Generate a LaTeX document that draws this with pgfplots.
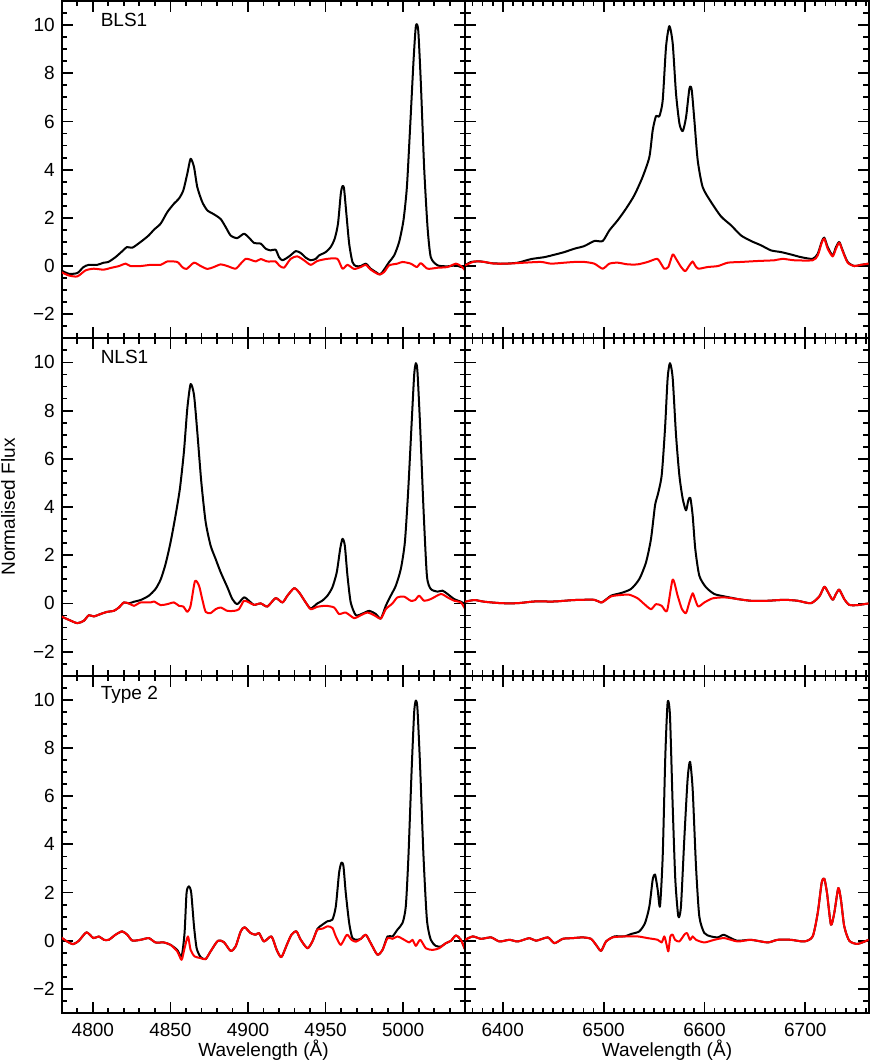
\documentclass[border=0pt]{standalone}
\usepackage{fontspec}
\setmainfont{Liberation Sans}
\usepackage{pgfplots}
\pgfplotsset{compat=1.18}
\usepgfplotslibrary{groupplots}

\pgfplotsset{
  spec/.style={
    width=201.5pt, height=168.5pt, scale only axis,
    ymin=-3, ymax=11,
    ytick={-2,0,...,10},
    minor ytick={-3,-2.5,...,11},
    tick align=inside, tick pos=both,
    major tick length=5.5pt, minor tick length=2.75pt,
    every tick/.style={black, line width=0.9pt},
    axis line style={line width=1pt},
    tick label style={font=\fontsize{9.5}{11}\selectfont},
    label style={font=\fontsize{9.5}{11}\selectfont},
    xticklabel shift=1.4pt,
    xlabel style={inner sep=0pt}, xlabel shift=-2pt,
    ylabel style={inner sep=0.5pt}, ylabel shift=5pt,
    clip=true,
  },
  hb/.style={spec, xmin=4780, xmax=5040, xtick={4800,4850,...,5000},
    minor xtick={4780,4790,...,5040}},
  ha/.style={spec, xmin=6362.8, xmax=6762.8, xtick={6400,6500,6600,6700},
    minor xtick={6370,6380,...,6760}},
  ylab/.style={yticklabels={−2,0,2,4,6,8,10}},
  noylab/.style={yticklabels={}},
  noxlab/.style={xticklabels={}},
  blk/.style={black, line width=1pt, line join=round, smooth, tension=0.4, mark=none},
  rd/.style={red, line width=1pt, line join=round, smooth, tension=0.4, mark=none},
}

\begin{document}
\begin{tikzpicture}
\begin{groupplot}[group style={group size=2 by 3, horizontal sep=0pt, vertical sep=0pt}]

% ---- row 1: BLS1
\nextgroupplot[hb, ylab, noxlab]
\addplot[blk] coordinates {(4779.6,-0.18)(4784.5,-0.32)(4790,-0.29)(4794,-0.04)(4797.4,0.05)(4802.8,0.05)(4807,0.14)(4810,0.17)(4814.6,0.37)(4819,0.62)(4822,0.79)(4825.4,0.76)(4830.8,1.0)(4836,1.27)(4839.4,1.51)(4843.7,1.76)(4848,2.24)(4852.3,2.59)(4855.5,2.80)(4858.3,3.14)(4860.9,3.84)(4863,4.45)(4865.2,4.11)(4867.3,3.28)(4870.5,2.66)(4873.8,2.31)(4878,2.15)(4882.4,1.95)(4885.6,1.62)(4888.8,1.27)(4893,1.16)(4897.4,1.34)(4900.6,1.18)(4903.9,0.96)(4908.2,0.93)(4911.4,0.72)(4914.6,0.65)(4917.8,0.68)(4920,0.37)(4922.2,0.24)(4926.5,0.40)(4930.8,0.62)(4934,0.54)(4937.2,0.35)(4940.4,0.24)(4943.7,0.30)(4945.8,0.44)(4950.1,0.58)(4953.3,0.79)(4955.9,1.14)(4958,1.76)(4959.8,3.0)(4960.9,3.32)(4961.9,3.21)(4963.4,2.17)(4965.2,0.93)(4967.3,0.17)(4969.5,0)(4972.7,0)(4975.9,0.1)(4979.1,-0.11)(4982.4,-0.25)(4985.2,-0.35)(4987.7,-0.15)(4991,0.17)(4994.2,0.44)(4997.4,1.0)(5000.2,1.9)(5002.4,3.28)(5004.5,5.78)(5006.7,8.55)(5008.2,9.97)(5009.7,9.79)(5011.4,7.58)(5013.5,4.11)(5015.7,1.62)(5017.8,0.37)(5022.2,0.03)(5028.6,-0.01)(5034,0.03)(5037.2,-0.04)(5040,-0.04)};
\addplot[rd] coordinates {(4779.6,-0.25)(4784.5,-0.39)(4790,-0.43)(4795.3,-0.18)(4800.6,-0.11)(4807,-0.15)(4811.4,-0.08)(4816.8,0)(4821.1,0.1)(4824.3,0)(4830.8,0)(4837.2,0.05)(4843.7,0.05)(4848,0.19)(4854.4,0.17)(4857.6,-0.04)(4860.4,-0.12)(4865.2,0.14)(4869.5,0)(4873.8,-0.12)(4878,-0.04)(4882.4,0.07)(4886.7,0)(4892,-0.11)(4895.3,0.1)(4898.5,0.3)(4901.7,0.26)(4905,0.19)(4908.2,0.29)(4912.5,0.19)(4917.8,0.19)(4920,0.03)(4923.2,-0.07)(4927.5,0.3)(4931.8,0.40)(4936.1,0.24)(4940.4,0.05)(4944.7,0.21)(4951.2,0.3)(4957.6,0.3)(4960.9,-0.11)(4964.1,0.05)(4968.4,-0.12)(4972.7,-0.04)(4975.9,0.05)(4979.1,-0.15)(4984.5,-0.35)(4987.7,-0.25)(4991,0.03)(4996.3,0.1)(4999.6,0.17)(5004.9,0.1)(5008.8,-0.04)(5011.4,0.12)(5015.7,-0.11)(5022.2,-0.07)(5028.6,-0.04)(5034,0.1)(5037.2,0)(5040,-0.18)};
\node[anchor=west, font=\fontsize{9.5}{11}\selectfont] at (rel axis cs:0.079,0.944) {BLS1};

\nextgroupplot[ha, noylab, noxlab]
\addplot[blk] coordinates {(6362.7,0.03)(6368.6,0.17)(6378.5,0.19)(6388.4,0.12)(6401.7,0.1)(6414.9,0.14)(6428.1,0.29)(6441.3,0.37)(6451.2,0.47)(6461.1,0.58)(6471,0.72)(6480.9,0.83)(6490.8,1.04)(6499.1,1.04)(6505.7,1.48)(6514,1.9)(6522.2,2.38)(6530.5,2.94)(6538.7,3.70)(6545.4,4.53)(6548.7,5.64)(6552,6.23)(6555.3,6.22)(6558.6,6.88)(6561.9,9.1)(6565.2,9.96)(6568.5,9.24)(6571.8,7.16)(6575.2,5.91)(6578.5,5.6)(6581.8,6.19)(6585.1,7.37)(6587.3,7.33)(6590,6.05)(6593.3,4.39)(6598.2,3.28)(6606.5,2.66)(6616.4,2.06)(6626.4,1.69)(6636.3,1.27)(6646.2,1.04)(6656.1,0.86)(6666,0.65)(6675.9,0.58)(6685.8,0.48)(6695.7,0.37)(6707.3,0.3)(6712.3,0.51)(6716.2,1.0)(6718.8,1.18)(6722.2,0.79)(6727.1,0.44)(6730.4,0.79)(6733.7,1.0)(6737,0.65)(6742,0.17)(6748.6,0)(6755.2,0.05)(6762.8,0.1)};
\addplot[rd] coordinates {(6362.7,0.03)(6372,0.19)(6381.8,0.17)(6391.7,0.1)(6405,0.1)(6421.5,0.14)(6438,0.17)(6447.9,0.1)(6461.1,0.14)(6471,0.17)(6480.9,0.17)(6490.8,0.1)(6499.1,-0.11)(6505.7,0.1)(6514,0.14)(6523.9,0.07)(6533.8,0.07)(6543.7,0.17)(6553,0.3)(6556.9,0.1)(6560.2,-0.11)(6564.2,-0.04)(6568.5,0.48)(6571.8,0.3)(6576.8,-0.04)(6581,-0.21)(6585.1,0.03)(6588.3,0.19)(6590.6,0.03)(6593.9,-0.11)(6603.2,-0.04)(6613.3,0)(6623.2,0.14)(6636.3,0.17)(6652.8,0.21)(6669.3,0.24)(6677.5,0.3)(6689.1,0.24)(6707.3,0.24)(6712.3,0.44)(6716.2,0.96)(6718.8,1.14)(6722.2,0.72)(6727.1,0.40)(6730.4,0.72)(6733.7,0.97)(6737,0.62)(6742,0.14)(6748.6,0)(6755.2,0.05)(6762.8,0.1)};

% ---- row 2: NLS1
\nextgroupplot[hb, ylab, noxlab, ylabel={Normalised Flux}]
\addplot[blk] coordinates {(4779.6,-0.54)(4784.5,-0.68)(4790,-0.82)(4794.2,-0.72)(4797.4,-0.49)(4800.6,-0.54)(4805,-0.44)(4809.2,-0.35)(4813.5,-0.31)(4816.8,-0.17)(4820,0.04)(4823.2,0)(4826.5,0.07)(4830.8,0.14)(4836.1,0.32)(4840.4,0.6)(4843.7,0.99)(4846.9,1.64)(4850.1,2.54)(4853.3,3.65)(4856.1,4.76)(4858.7,6.29)(4860.9,8.1)(4863,9.1)(4865.2,8.65)(4867.3,7.13)(4869.9,5.04)(4872.7,3.38)(4875.9,2.4)(4879.1,1.85)(4882.4,1.29)(4886.7,0.67)(4889.9,0.18)(4893.1,-0.03)(4897.4,0.25)(4900.6,0.11)(4903.9,-0.06)(4908.2,0)(4912.5,-0.13)(4917.8,0.22)(4922.2,0.04)(4925.4,0.32)(4929.7,0.63)(4932.9,0.46)(4937.2,0.04)(4940.4,-0.21)(4944.7,0)(4947.8,0.11)(4951.2,0.32)(4954.4,0.67)(4957.2,1.29)(4959.4,2.26)(4960.9,2.68)(4962.4,2.40)(4964.1,1.15)(4966.2,0.04)(4969.5,-0.49)(4973.8,-0.42)(4978.1,-0.31)(4982.4,-0.44)(4985.6,-0.63)(4988.8,-0.1)(4992,0.32)(4995.3,0.74)(4998.5,1.43)(5001.1,2.54)(5003.2,4.63)(5005.4,7.4)(5007.1,9.49)(5008.2,9.97)(5009.2,9.63)(5010.9,7.4)(5013.1,3.93)(5015.3,1.15)(5017.8,0.6)(5022.2,0.49)(5025.4,0.53)(5028.6,0.39)(5032.9,0.18)(5037.2,0.07)(5040,-0.03)};
\addplot[rd] coordinates {(4779.6,-0.54)(4784.5,-0.68)(4790,-0.82)(4794.2,-0.72)(4797.4,-0.49)(4800.6,-0.54)(4805,-0.44)(4809.2,-0.35)(4813.5,-0.31)(4816.8,-0.17)(4820,0.04)(4823.2,0)(4826.5,-0.1)(4830.8,0.04)(4837.2,0.04)(4839.4,0.08)(4843.7,-0.07)(4848,-0.03)(4852.3,0.04)(4855.5,-0.1)(4858.3,-0.13)(4860.9,-0.35)(4863,-0.1)(4865.8,0.92)(4868.4,0.74)(4870.5,0.18)(4872.7,-0.35)(4875.9,-0.4)(4879.1,-0.24)(4882.4,-0.17)(4886.7,-0.31)(4891,-0.31)(4894.2,-0.24)(4897.4,0.11)(4900.6,0.04)(4903.9,-0.06)(4908.2,0)(4912.5,-0.13)(4917.8,0.22)(4922.2,0.04)(4925.4,0.32)(4929.7,0.63)(4932.9,0.46)(4937.2,0.04)(4940.4,-0.24)(4944.7,-0.14)(4950.1,-0.1)(4955.5,-0.17)(4958.7,-0.44)(4963,-0.38)(4968.4,-0.61)(4972.7,-0.49)(4977,-0.38)(4981.3,-0.49)(4985.6,-0.63)(4988.8,-0.24)(4993.1,0)(4996.3,0.25)(5000.6,0.28)(5004.9,0.11)(5007.7,0.14)(5010.3,0.32)(5013.5,0.11)(5017.8,0.18)(5024.3,0.39)(5028.6,0.25)(5032.9,0.11)(5037.2,0.04)(5040,-0.24)};
\node[anchor=west, font=\fontsize{9.5}{11}\selectfont] at (rel axis cs:0.079,0.944) {NLS1};

\nextgroupplot[ha, noylab, noxlab]
\addplot[blk] coordinates {(6362.7,0.07)(6371.9,0.14)(6381.8,0.07)(6398.3,0.01)(6414.9,0.01)(6431.4,0.08)(6451.2,0.08)(6471,0.14)(6490.8,0.15)(6498.1,0.04)(6507.4,0.32)(6517.3,0.43)(6527.2,0.6)(6535.4,1.01)(6542.1,1.71)(6547,2.68)(6551,4.07)(6553.6,4.49)(6557.6,5.32)(6560.9,7.26)(6563.5,9.35)(6565.8,9.97)(6568.5,9.35)(6571.8,6.99)(6575.1,5.32)(6578.4,4.35)(6581.7,3.86)(6584,4.28)(6586,4.38)(6588.3,3.65)(6590.9,2.26)(6594.9,1.15)(6601.5,0.67)(6609.8,0.39)(6619.7,0.29)(6629.6,0.21)(6632.9,0.18)(6646.1,0.11)(6662.6,0.11)(6679.2,0.15)(6692.4,0.11)(6705.6,0.01)(6713.9,0.29)(6718.8,0.69)(6722.2,0.49)(6727.1,0.15)(6730.4,0.39)(6733.7,0.57)(6738.6,0.18)(6743.6,-0.06)(6751.8,-0.07)(6762.8,0)};
\addplot[rd] coordinates {(6362.7,0.07)(6371.9,0.14)(6381.8,0.07)(6398.3,0.01)(6414.9,0.01)(6431.4,0.08)(6451.2,0.08)(6471,0.14)(6490.8,0.15)(6498.1,0.04)(6507.4,0.29)(6517.3,0.35)(6525.5,0.36)(6533.8,0.21)(6540.4,-0.03)(6547,-0.24)(6552,-0.03)(6557.6,-0.1)(6562.9,-0.31)(6568.5,0.99)(6573.4,0.32)(6577.7,-0.24)(6581.7,-0.4)(6585,0.04)(6588.3,0.42)(6590.6,0.18)(6593.9,-0.13)(6599.9,0.04)(6608.1,0.21)(6619.7,0.25)(6632.9,0.18)(6646.1,0.11)(6662.6,0.11)(6679.2,0.15)(6692.4,0.11)(6705.6,0.01)(6713.9,0.29)(6718.8,0.69)(6722.2,0.49)(6727.1,0.15)(6730.4,0.39)(6733.7,0.57)(6738.6,0.18)(6743.6,-0.06)(6751.8,-0.07)(6762.8,0)};

% ---- row 3: Type 2
\nextgroupplot[hb, ylab, xticklabels={4800,4850,4900,4950,5000}, xlabel={Wavelength (Å)}]
\addplot[blk] coordinates {(4779.6,0.14)(4783.4,-0.03)(4787.3,-0.14)(4791,0)(4795.9,0.35)(4800.4,0.11)(4803.9,0.18)(4807.1,0.04)(4810.3,0.04)(4814.6,0.25)(4818.9,0.39)(4822.2,0.25)(4825.4,0.01)(4830.8,0.04)(4836.1,0.11)(4840.4,-0.07)(4845.8,-0.07)(4850.1,-0.17)(4854.4,-0.38)(4857.2,-0.65)(4859.1,0.32)(4860.4,1.99)(4861.9,2.26)(4863.4,1.99)(4865.2,0.6)(4866.9,-0.31)(4869.5,-0.68)(4872.7,-0.76)(4875.9,-0.44)(4880.6,0)(4884.5,-0.06)(4888.8,-0.42)(4892,-0.24)(4895.3,0.39)(4897.8,0.56)(4901.7,0.32)(4904.9,0.25)(4907.1,0.32)(4910.3,-0.03)(4915.1,0.18)(4918.5,-0.38)(4921.5,-0.68)(4925,-0.17)(4928,0.25)(4931.2,0.39)(4934,0.04)(4938.3,-0.31)(4941.5,-0.03)(4944.7,0.49)(4948,0.67)(4951.2,0.81)(4954.4,0.88)(4956.6,1.43)(4958.7,2.82)(4960.2,3.24)(4961.5,3.1)(4963,1.99)(4965.2,0.74)(4967.3,0.11)(4970.5,0.04)(4972.7,0.08)(4975.9,0.25)(4979.1,-0.1)(4983.4,-0.58)(4986.7,-0.38)(4989.9,0.18)(4993.1,0.18)(4996.3,0.46)(4999.6,0.74)(5001.7,1.43)(5003.4,3.51)(5005.4,6.99)(5007.1,9.49)(5008.2,9.97)(5009.2,9.63)(5010.9,7.26)(5013.1,3.51)(5015.3,0.88)(5017.8,0.04)(5021,-0.21)(5024.3,-0.24)(5027.5,-0.1)(5030.8,0)(5034,0.22)(5037.2,0.04)(5040,-0.38)};
\addplot[rd] coordinates {(4779.6,0.14)(4783.4,-0.03)(4787.3,-0.14)(4791,0)(4795.9,0.35)(4800.4,0.11)(4803.9,0.18)(4807.1,0.04)(4810.3,0.04)(4814.6,0.25)(4818.9,0.39)(4822.2,0.25)(4825.4,0.01)(4830.8,0.04)(4836.1,0.11)(4840.4,-0.07)(4845.8,-0.07)(4850.1,-0.17)(4854.4,-0.44)(4857.2,-0.79)(4859.1,-0.31)(4861.3,0.18)(4863,-0.38)(4865.6,-0.65)(4869.5,-0.72)(4872.7,-0.76)(4875.9,-0.44)(4880.6,0)(4884.5,-0.06)(4888.8,-0.42)(4892,-0.24)(4895.3,0.39)(4897.8,0.56)(4901.7,0.32)(4904.9,0.25)(4907.1,0.32)(4910.3,-0.03)(4915.1,0.18)(4918.5,-0.38)(4921.5,-0.68)(4925,-0.17)(4928,0.25)(4931.2,0.39)(4934,0.04)(4938.3,-0.31)(4941.5,-0.03)(4944.7,0.46)(4948,0.5)(4951.2,0.6)(4954.4,0.53)(4956.6,0.18)(4959.8,-0.17)(4963.7,0.25)(4966.7,0.04)(4969.5,-0.04)(4972.7,0.08)(4975.9,0.25)(4979.1,-0.1)(4983.4,-0.58)(4986.7,-0.38)(4989.9,0.11)(4993.1,0.08)(4996.3,0.18)(4999.6,0.08)(5003.9,-0.07)(5006,0.04)(5008.2,-0.21)(5011,0.04)(5014.6,-0.31)(5018.9,-0.38)(5023.2,-0.31)(5027.5,-0.1)(5030.8,0)(5034,0.22)(5037.2,0.04)(5040,-0.38)};
\node[anchor=west, font=\fontsize{9.5}{11}\selectfont] at (rel axis cs:0.079,0.944) {Type 2};

\nextgroupplot[ha, noylab, xticklabels={6400,6500,6600,6700}, xlabel={Wavelength (Å)}]
\addplot[blk] coordinates {(6362.7,0.04)(6370.3,0.18)(6378.5,0.08)(6388.4,0.14)(6396.7,-0.03)(6406.6,0.04)(6414.9,-0.03)(6426.4,0.11)(6433,0)(6444.6,0.14)(6451.2,-0.1)(6459.5,0.08)(6469.4,0.11)(6479.3,0.14)(6487.5,0.08)(6492.5,-0.17)(6497.5,-0.42)(6502.4,-0.03)(6510.7,0.18)(6520.6,0.18)(6527.2,0.28)(6535.4,0.39)(6541.1,0.74)(6545.4,1.43)(6548.7,2.54)(6551,2.75)(6553.6,2.13)(6555.9,1.43)(6558.6,3.51)(6561.2,7.68)(6563.5,9.9)(6565.8,9.35)(6568.5,5.6)(6571.1,2.54)(6574.1,1.01)(6576.7,1.43)(6580,4.21)(6583.3,6.71)(6585.7,7.43)(6588.3,6.29)(6591.6,3.1)(6594.9,1.01)(6599.9,0.32)(6606.5,0.18)(6613.1,0.14)(6619.1,0.25)(6624.6,0.14)(6632.9,0)(6646.1,0.04)(6662.6,-0.07)(6672.5,0.04)(6685.8,0.04)(6699,-0.03)(6707.3,0.18)(6712.3,1.15)(6716.2,2.4)(6718.8,2.58)(6721.5,1.99)(6725.4,0.67)(6728.7,1.15)(6732.7,2.19)(6735.3,1.71)(6738.6,0.6)(6743.6,0)(6751.8,-0.13)(6762.8,0.04)};
\addplot[rd] coordinates {(6362.7,0.04)(6370.3,0.18)(6378.5,0.08)(6388.4,0.14)(6396.7,-0.03)(6406.6,0.04)(6414.9,-0.03)(6426.4,0.11)(6433,0)(6444.6,0.14)(6451.2,-0.1)(6459.5,0.08)(6469.4,0.11)(6479.3,0.14)(6487.5,0.08)(6492.5,-0.17)(6497.5,-0.42)(6502.4,-0.03)(6509,0.14)(6520.6,0.18)(6533.8,0.18)(6543.7,0.11)(6553.6,0.04)(6557.6,-0.07)(6560.2,0.18)(6562.5,-0.17)(6564.2,-0.44)(6566.2,0.18)(6568.5,0.25)(6570.8,0.04)(6575.1,-0.03)(6580,0.25)(6582.7,0.32)(6585.7,0.04)(6588.3,0.18)(6591.6,0.04)(6599.9,-0.07)(6609.8,0.04)(6619.7,0.11)(6632.9,-0.03)(6646.1,0.04)(6662.6,-0.07)(6672.5,0.04)(6685.8,0.04)(6699,-0.03)(6707.3,0.18)(6712.3,1.15)(6716.2,2.4)(6718.8,2.58)(6721.5,1.99)(6725.4,0.67)(6728.7,1.15)(6732.7,2.19)(6735.3,1.71)(6738.6,0.6)(6743.6,0)(6751.8,-0.13)(6762.8,0.04)};
\end{groupplot}
\end{tikzpicture}
\end{document}
